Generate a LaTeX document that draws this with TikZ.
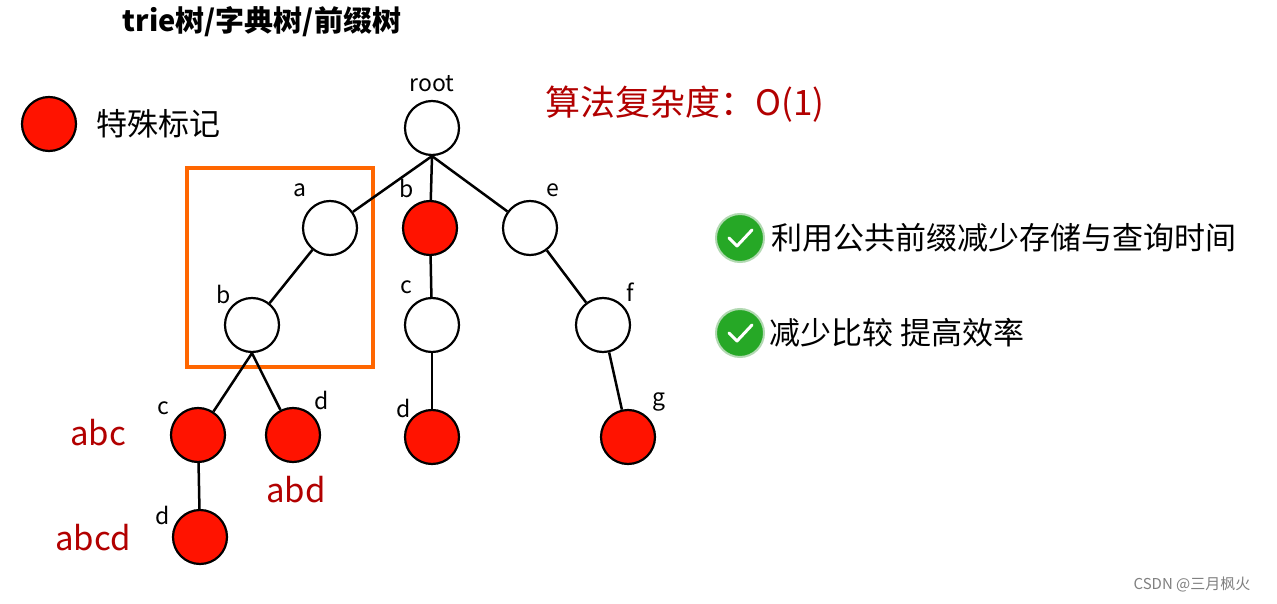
\documentclass[tikz,border=0pt]{standalone}
\usepackage{fontspec}
\setmainfont{Noto Sans CJK SC}
\begin{document}
\begin{tikzpicture}[x=1pt,y=-1pt,
  nd/.style={circle,draw=black,line width=2.2pt,minimum size=54pt,inner sep=0pt,fill=white},
  rd/.style={nd,fill=red!85!orange},
  lb/.style={font=\fontsize{23}{23}\selectfont},
  rl/.style={font=\fontsize{33}{33}\selectfont,text=red!70!black},
  ck/.style={circle,fill=green!60!black!85,draw=green!50!black!30,line width=2pt,minimum size=48pt,inner sep=0pt},
  ed/.style={line width=2.5pt}]
\useasboundingbox[fill=white] (0,0) rectangle (1277,604);
\node[font=\fontsize{29}{29}\selectfont\bfseries] (title) at (262,22) {trie树/字典树/前缀树};
\node[rd] (leg) at (49,124) {};
\node[font=\fontsize{31}{31}\selectfont,anchor=west] (legt) at (93,124) {特殊标记};
\node[font=\fontsize{35}{35}\selectfont,text=red!70!black] (cx) at (685,104) {算法复杂度：O(1)};
\draw[orange!80!red,line width=3.5pt] (187,168) rectangle (373,367);
\node[nd] (root) at (432,128) {};
\node[nd] (a) at (330,228) {};
\node[rd] (b) at (430,228) {};
\node[nd] (e) at (530,228) {};
\node[nd] (ab) at (252,325) {};
\node[nd] (c) at (432,325) {};
\node[nd] (f) at (603,325) {};
\node[rd] (abc) at (198,435) {};
\node[rd] (abd) at (293,435) {};
\node[rd] (cd) at (432,437) {};
\node[rd] (g) at (628,437) {};
\node[rd] (abcd) at (200,537) {};
\draw[ed] (root.south) -- (a); \draw[ed] (root.south) -- (b); \draw[ed] (root.south) -- (e);
\draw[ed] (a) -- (ab); \draw[ed] (b) -- (c); \draw[ed] (e) -- (f);
\draw[ed] (ab.south) -- (abc); \draw[ed] (ab.south) -- (abd); \draw[ed] (c) -- (cd);
\draw[ed] (f) -- (g); \draw[ed] (abc) -- (abcd);
\node[lb] (l0) at (432,84) {root};
\node[lb] (l1) at (300,190) {a};
\node[lb] (l2) at (407,188) {b};
\node[lb] (l3) at (553,190) {e};
\node[lb] (l4) at (224,294) {b};
\node[lb] (l5) at (406,287) {c};
\node[lb] (l6) at (630,292) {f};
\node[lb] (l7) at (163,408) {c};
\node[lb] (l8) at (322,400) {d};
\node[lb] (l9) at (404,408) {d};
\node[lb] (l10) at (659,402) {g};
\node[lb] (l11) at (163,515) {d};
\node[rl] (r1) at (98,433) {abc};
\node[rl] (r2) at (296,490) {abd};
\node[rl] (r3) at (93,538) {abcd};
\node[ck] (c1) at (740,238) {};
\draw[white,line width=3pt,line cap=round,line join=round] (729,238) -- (737,246) -- (752,230);
\node[ck] (c2) at (740,333) {};
\draw[white,line width=3pt,line cap=round,line join=round] (729,333) -- (737,341) -- (752,325);
\node[font=\fontsize{31}{31}\selectfont,anchor=west] (t1) at (768,238) {利用公共前缀减少存储与查询时间};
\node[font=\fontsize{31}{31}\selectfont,anchor=west] (t2) at (766,333) {减少比较 提高效率};
\node[font=\fontsize{15}{15}\selectfont,text=gray] (wm) at (1192,584) {CSDN @三月枫火};
\end{tikzpicture}
\end{document}
